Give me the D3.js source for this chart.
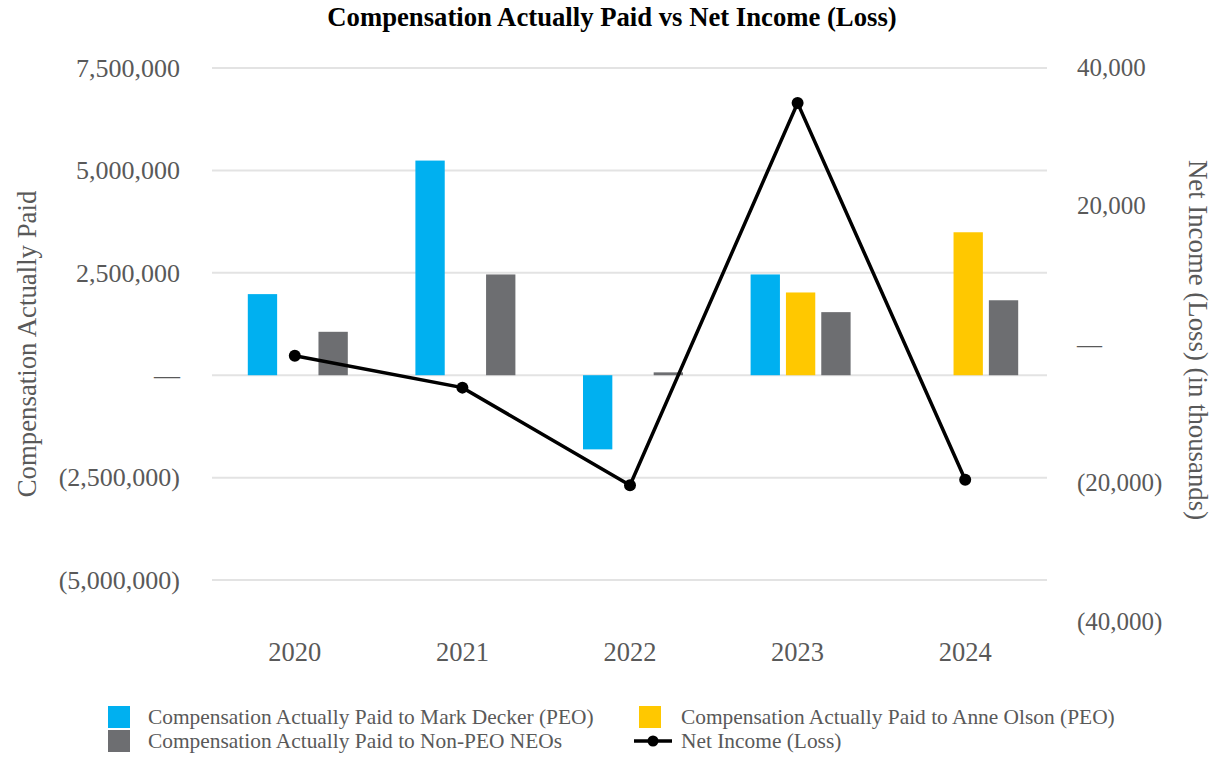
<!DOCTYPE html>
<html>
<head>
<meta charset="utf-8">
<script src="https://cdn.jsdelivr.net/npm/d3@7"></script>
<style>
  body { margin: 0; background: #fff; }
  text { font-family: "Liberation Serif", "Times New Roman", serif; }
</style>
</head>
<body>
<svg id="chart" width="1226" height="768"></svg>
<script>
// data
var years = ["2020", "2021", "2022", "2023", "2024"];
var deckerCap = [1980000, 5240000, -1810000, 2460000, null];
var olsonCap = [null, null, null, 2020000, 3490000];
var nonPeoCap = [1060000, 2460000, 70000, 1540000, 1830000];
var netIncome = [-1700, -6300, -20400, 34800, -19600];
var leftTicks = [-5000000, -2500000, 0, 2500000, 5000000, 7500000];
var rightTicks = [-40000, -20000, 0, 20000, 40000];

var seriesNames = ["Compensation Actually Paid to Mark Decker (PEO)",
                   "Compensation Actually Paid to Anne Olson (PEO)",
                   "Compensation Actually Paid to Non-PEO NEOs",
                   "Net Income (Loss)"];
var colors = ["#00b0f0", "#ffc800", "#6d6e71"];

var svg = d3.select("#chart");
var grey = "#595959";

var x = d3.scaleBand().domain(years).range([211, 1049]);
var yL = d3.scaleLinear().domain([-6000000, 7500000]).range([621, 68]);
var yR = d3.scaleLinear().domain([-40000, 40000]).range([621, 67]);

var fmt = d3.format(",");
function paren(v) { return v == 0 ? "\u2014" : v < 0 ? "(" + fmt(-v) + ")" : fmt(v); }

// title
svg.append("text")
    .attr("x", 612).attr("y", 26)
    .attr("text-anchor", "middle")
    .attr("font-weight", "bold")
    .attr("font-size", "26.7px")
    .attr("fill", "#000")
    .text("Compensation Actually Paid vs Net Income (Loss)");

// gridlines
svg.append("g").selectAll("line")
    .data(leftTicks).enter().append("line")
    .attr("x1", 212).attr("x2", 1047)
    .attr("y1", function(d){ return yL(d); })
    .attr("y2", function(d){ return yL(d); })
    .attr("stroke", "#e3e3e3").attr("stroke-width", 2);

// left axis
var gL = svg.append("g").attr("transform", "translate(180,0)")
    .call(d3.axisLeft(yL).tickValues(leftTicks).tickFormat(paren).tickSize(0).tickPadding(0));
gL.select(".domain").remove();
gL.selectAll("text").attr("fill", grey).attr("font-size", "26px")
    .attr("font-family", "Liberation Serif").attr("dy", "0.32em");

// right axis
var gR = svg.append("g").attr("transform", "translate(1077,0)")
    .call(d3.axisRight(yR).tickValues(rightTicks).tickFormat(paren).tickSize(0).tickPadding(0));
gR.select(".domain").remove();
gR.selectAll("text").attr("fill", grey).attr("font-size", "25px")
    .attr("font-family", "Liberation Serif").attr("dy", "0.32em");

// x axis
var gX = svg.append("g").attr("transform", "translate(0,643)")
    .call(d3.axisBottom(x).tickSize(0).tickPadding(0));
gX.select(".domain").remove();
gX.selectAll("text").attr("fill", grey).attr("font-size", "26.5px")
    .attr("font-family", "Liberation Serif").attr("dy", "0.68em");

// axis titles
svg.append("text")
    .attr("transform", "translate(36,344) rotate(-90)")
    .attr("text-anchor", "middle")
    .attr("fill", grey).attr("font-size", "26.8px")
    .text("Compensation Actually Paid");
svg.append("text")
    .attr("transform", "translate(1189,340) rotate(90)")
    .attr("text-anchor", "middle")
    .attr("fill", grey).attr("font-size", "26.8px")
    .text("Net Income (Loss) (in thousands)");

// bars
var inner = d3.scaleBand().domain([0, 1, 2]).range([-47, 53]).paddingInner(0.17);
var barData = [];
[deckerCap, olsonCap, nonPeoCap].forEach(function(arr, s){
    arr.forEach(function(v, i){
        if (v !== null) barData.push({year: years[i], s: s, v: v});
    });
});
svg.append("g").selectAll("rect")
    .data(barData).enter().append("rect")
    .attr("x", function(d){ return x(d.year) + x.bandwidth()/2 + inner(d.s); })
    .attr("width", inner.bandwidth())
    .attr("y", function(d){ return yL(Math.max(0, d.v)); })
    .attr("height", function(d){ return Math.abs(yL(d.v) - yL(0)); })
    .attr("fill", function(d){ return colors[d.s]; });

// net income line
var line = d3.line()
    .x(function(d, i){ return x(years[i]) + x.bandwidth()/2; })
    .y(function(d){ return yR(d); });
svg.append("path")
    .datum(netIncome)
    .attr("d", line)
    .attr("fill", "none")
    .attr("stroke", "#000")
    .attr("stroke-width", 3.5);
svg.append("g").selectAll("circle")
    .data(netIncome).enter().append("circle")
    .attr("cx", function(d, i){ return x(years[i]) + x.bandwidth()/2; })
    .attr("cy", function(d){ return yR(d); })
    .attr("r", 6)
    .attr("fill", "#000");

// legend
var legPos = [[108, 717], [639, 717], [108, 741], [639, 741]];
var leg = svg.append("g");
seriesNames.forEach(function(name, i){
    var p = legPos[i];
    if (i < 3) {
        leg.append("rect")
            .attr("x", p[0]).attr("y", p[1] - 11)
            .attr("width", 22).attr("height", 22)
            .attr("fill", colors[i]);
    } else {
        leg.append("line")
            .attr("x1", p[0] - 5).attr("x2", p[0] + 33)
            .attr("y1", p[1]).attr("y2", p[1])
            .attr("stroke", "#000").attr("stroke-width", 3.5);
        leg.append("circle")
            .attr("cx", p[0] + 14).attr("cy", p[1]).attr("r", 5.5)
            .attr("fill", "#000");
    }
    leg.append("text")
        .attr("x", i == 0 || i == 2 ? p[0] + 40 : p[0] + 42)
        .attr("y", p[1])
        .attr("dy", "0.35em")
        .attr("fill", grey).attr("font-size", "21.4px")
        .text(name);
});
</script>
</body>
</html>
